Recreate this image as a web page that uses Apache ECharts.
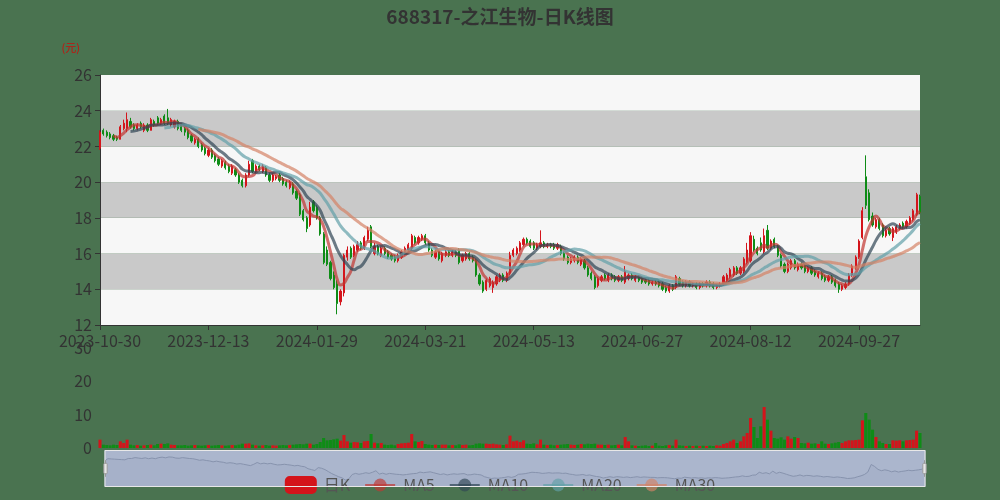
<!DOCTYPE html>
<html><head><meta charset="utf-8">
<script src="https://cdn.jsdelivr.net/npm/echarts@6/dist/echarts.min.js"></script>
<style>html,body{margin:0;padding:0;background:#4a7350;}#c{width:1000px;height:500px;}</style>
</head><body><div id="c"></div>
<script>
const dates = [
'2023-10-30','2023-10-31',
'2023-11-01','2023-11-02','2023-11-03','2023-11-06','2023-11-07','2023-11-08','2023-11-09','2023-11-10','2023-11-13','2023-11-14','2023-11-15','2023-11-16','2023-11-17','2023-11-20','2023-11-21','2023-11-22','2023-11-23','2023-11-24','2023-11-27','2023-11-28','2023-11-29','2023-11-30',
'2023-12-01','2023-12-04','2023-12-05','2023-12-06','2023-12-07','2023-12-08','2023-12-11','2023-12-12','2023-12-13','2023-12-14','2023-12-15','2023-12-18','2023-12-19','2023-12-20','2023-12-21','2023-12-22','2023-12-25','2023-12-26','2023-12-27','2023-12-28','2023-12-29',
'2024-01-02','2024-01-03','2024-01-04','2024-01-05','2024-01-08','2024-01-09','2024-01-10','2024-01-11','2024-01-12','2024-01-15','2024-01-16','2024-01-17','2024-01-18','2024-01-19','2024-01-22','2024-01-23','2024-01-24','2024-01-25','2024-01-26','2024-01-29','2024-01-30','2024-01-31',
'2024-02-01','2024-02-02','2024-02-05','2024-02-06','2024-02-07','2024-02-08','2024-02-19','2024-02-20','2024-02-21','2024-02-22','2024-02-23','2024-02-26','2024-02-27','2024-02-28','2024-02-29',
'2024-03-01','2024-03-04','2024-03-05','2024-03-06','2024-03-07','2024-03-08','2024-03-11','2024-03-12','2024-03-13','2024-03-14','2024-03-15','2024-03-18','2024-03-19','2024-03-20','2024-03-21','2024-03-22','2024-03-25','2024-03-26','2024-03-27','2024-03-28','2024-03-29',
'2024-04-01','2024-04-02','2024-04-03','2024-04-08','2024-04-09','2024-04-10','2024-04-11','2024-04-12','2024-04-15','2024-04-16','2024-04-17','2024-04-18','2024-04-19','2024-04-22','2024-04-23','2024-04-24','2024-04-25','2024-04-26','2024-04-29','2024-04-30',
'2024-05-06','2024-05-07','2024-05-08','2024-05-09','2024-05-10','2024-05-13','2024-05-14','2024-05-15','2024-05-16','2024-05-17','2024-05-20','2024-05-21','2024-05-22','2024-05-23','2024-05-24','2024-05-27','2024-05-28','2024-05-29','2024-05-30','2024-05-31',
'2024-06-03','2024-06-04','2024-06-05','2024-06-06','2024-06-07','2024-06-11','2024-06-12','2024-06-13','2024-06-14','2024-06-17','2024-06-18','2024-06-19','2024-06-20','2024-06-21','2024-06-24','2024-06-25','2024-06-26','2024-06-27','2024-06-28',
'2024-07-01','2024-07-02','2024-07-03','2024-07-04','2024-07-05','2024-07-08','2024-07-09','2024-07-10','2024-07-11','2024-07-12','2024-07-15','2024-07-16','2024-07-17','2024-07-18','2024-07-19','2024-07-22','2024-07-23','2024-07-24','2024-07-25','2024-07-26','2024-07-29','2024-07-30','2024-07-31',
'2024-08-01','2024-08-02','2024-08-05','2024-08-06','2024-08-07','2024-08-08','2024-08-09','2024-08-12','2024-08-13','2024-08-14','2024-08-15','2024-08-16','2024-08-19','2024-08-20','2024-08-21','2024-08-22','2024-08-23','2024-08-26','2024-08-27','2024-08-28','2024-08-29','2024-08-30',
'2024-09-02','2024-09-03','2024-09-04','2024-09-05','2024-09-06','2024-09-09','2024-09-10','2024-09-11','2024-09-12','2024-09-13','2024-09-18','2024-09-19','2024-09-20','2024-09-23','2024-09-24','2024-09-25','2024-09-26','2024-09-27','2024-09-30',
'2024-10-08','2024-10-09','2024-10-10','2024-10-11','2024-10-14','2024-10-15','2024-10-16','2024-10-17','2024-10-18','2024-10-21','2024-10-22','2024-10-23','2024-10-24','2024-10-25','2024-10-28','2024-10-29','2024-10-30'
];
const openP = [
21.9,22.9,22.8,22.7,22.6,22.5,22.4,23.0,23.0,23.4,
23.2,23.0,23.3,22.9,23.2,22.9,23.4,23.6,23.3,23.7,
23.6,23.2,23.1,23.4,23.2,23.0,22.9,22.6,22.2,22.4,
22.1,21.9,21.5,21.8,21.5,21.3,20.9,21.1,20.9,20.5,
20.7,20.4,20.1,19.8,20.4,21.2,20.6,20.9,20.6,20.8,
20.4,20.1,20.2,20.4,20.2,20.0,19.7,19.9,19.5,19.3,
18.4,18.0,17.6,18.9,18.6,18.0,17.1,16.2,15.5,14.8,
14.3,13.3,13.8,15.8,16.3,15.9,16.2,16.6,16.3,16.8,
17.5,16.0,16.4,15.9,16.3,16.1,15.9,15.8,15.6,15.8,
16.0,16.2,16.3,16.9,16.6,16.8,17.0,16.6,16.2,15.8,
16.1,15.6,15.9,16.1,15.9,16.1,16.2,15.6,15.7,16.0,
15.8,15.6,14.8,14.4,14.0,14.2,14.1,14.3,14.5,14.8,
14.5,14.9,15.9,16.0,16.2,16.5,16.8,16.7,16.6,16.3,
16.4,16.6,16.4,16.5,16.5,16.3,16.4,16.0,15.8,15.5,
15.6,15.8,15.4,15.6,15.2,14.9,14.7,14.2,14.5,14.8,
14.5,14.8,14.7,14.5,14.7,14.4,14.6,14.8,14.5,14.7,
14.6,14.5,14.5,14.3,14.4,14.4,14.3,14.1,13.9,14.2,
14.1,14.6,14.4,14.2,14.4,14.2,14.3,14.1,14.3,14.2,
14.4,14.3,14.1,14.2,14.3,14.5,14.7,14.8,15.2,14.9,
15.0,15.5,15.6,16.8,16.3,16.6,16.1,17.3,16.3,16.8,
16.4,15.9,15.4,15.0,15.2,15.6,15.1,15.4,15.3,15.0,
15.2,15.0,14.7,14.9,14.7,14.5,14.7,14.5,14.3,14.0,
14.1,14.3,14.8,15.2,15.8,16.9,20.3,19.4,18.1,17.5,
17.9,17.6,17.0,17.4,16.9,17.2,17.4,17.7,17.5,17.7,
17.9,18.2,19.2
];
const closeP = [
22.8,22.7,22.6,22.5,22.4,22.4,23.1,23.3,23.5,23.1,
23.0,23.2,23.1,23.2,22.9,23.5,23.2,23.3,23.5,23.3,
23.3,23.5,23.4,23.0,22.9,22.8,22.5,22.3,22.4,22.0,
21.8,21.6,21.8,21.4,21.2,21.0,21.2,20.8,20.6,20.9,
20.4,20.0,19.8,20.4,21.0,20.6,20.9,20.7,20.9,20.4,
20.1,20.4,20.3,20.1,19.9,19.8,20.0,19.4,19.1,18.2,
17.9,17.4,18.6,18.4,18.0,17.1,15.5,15.4,14.6,14.1,
13.2,13.9,15.9,16.2,15.8,16.4,16.5,16.3,16.9,17.3,
16.4,16.4,16.0,16.3,16.0,15.8,15.7,15.6,15.9,16.1,
16.3,16.5,17.0,16.6,16.9,17.0,16.6,16.2,15.9,16.1,
15.7,16.0,16.1,15.9,16.1,15.9,15.5,15.9,16.0,15.7,
15.6,14.8,14.3,13.9,14.5,14.6,14.4,14.7,14.8,14.5,
14.9,15.9,16.2,16.3,16.6,16.8,16.6,16.4,16.3,16.5,
16.6,16.4,16.5,16.4,16.3,16.5,16.0,15.7,15.5,15.7,
15.8,15.5,15.7,15.2,14.8,14.6,14.1,14.6,14.7,14.6,
14.8,14.6,14.5,14.7,14.5,15.0,14.8,14.6,14.7,14.5,
14.4,14.4,14.3,14.4,14.3,14.2,14.0,13.9,14.2,14.0,
14.7,14.3,14.2,14.4,14.2,14.3,14.1,14.3,14.2,14.4,
14.2,14.1,14.2,14.3,14.7,14.8,15.1,15.2,14.9,15.2,
15.7,16.2,17.0,16.2,16.0,16.2,17.0,16.3,16.7,16.4,
15.9,15.3,15.0,15.4,15.6,15.2,15.4,15.2,15.0,15.2,
14.9,14.8,14.9,14.6,14.5,14.7,14.4,14.2,14.0,14.2,
14.3,14.8,15.3,15.8,16.7,18.4,18.7,17.9,17.6,17.9,
17.4,17.0,17.3,17.1,17.4,17.5,17.6,17.5,17.8,18.0,
18.4,19.3,18.3
];
const lowP = [
21.8,22.6,22.5,22.4,22.3,22.3,22.4,22.9,22.8,23.0,
22.9,22.9,23.0,22.8,22.8,22.9,23.1,23.2,23.2,23.2,
23.2,23.1,23.0,22.9,22.8,22.6,22.4,22.2,22.1,21.9,
21.7,21.5,21.4,21.3,21.1,20.9,20.8,20.7,20.5,20.4,
20.3,19.9,19.7,19.7,20.3,20.5,20.5,20.6,20.5,20.3,
20.0,20.0,20.1,20.0,19.8,19.7,19.6,19.3,19.0,18.1,
17.8,17.2,17.5,18.3,17.9,17.0,15.4,15.3,14.5,14.0,
12.6,13.1,13.6,15.6,15.7,15.8,16.1,16.2,16.2,16.7,
16.3,15.9,15.9,15.8,15.9,15.7,15.6,15.5,15.5,15.7,
15.9,16.1,16.2,16.5,16.5,16.7,16.5,16.1,15.8,15.7,
15.6,15.5,15.8,15.8,15.8,15.8,15.4,15.5,15.6,15.6,
15.5,14.7,14.2,13.8,13.9,14.1,13.8,14.2,14.4,14.4,
14.4,14.8,15.8,15.9,16.1,16.4,16.5,16.3,16.2,16.2,
16.3,16.3,16.3,16.3,16.2,16.2,15.9,15.6,15.4,15.4,
15.5,15.4,15.3,15.1,14.7,14.5,14.0,14.1,14.4,14.5,
14.4,14.5,14.4,14.4,14.4,14.3,14.5,14.5,14.4,14.4,
14.3,14.3,14.2,14.2,14.2,14.1,13.9,13.8,13.8,13.9,
14.0,14.2,14.1,14.1,14.1,14.1,14.0,14.0,14.1,14.1,
14.1,14.0,14.0,14.1,14.2,14.4,14.6,14.7,14.8,14.8,
14.9,15.4,15.5,16.1,15.9,16.1,16.0,16.2,16.2,16.3,
15.8,15.2,14.9,14.9,15.1,15.1,15.0,15.1,14.9,14.9,
14.8,14.7,14.6,14.5,14.4,14.4,14.3,14.1,13.8,13.9,
14.0,14.2,14.7,15.1,15.7,16.8,18.5,17.8,17.5,17.4,
17.3,16.9,16.9,17.0,16.7,17.1,17.3,17.4,17.4,17.6,
17.8,18.1,18.2
];
const highP = [
22.9,23.0,22.9,22.8,22.7,22.6,23.2,23.5,23.9,23.6,
23.3,23.3,23.4,23.3,23.3,23.6,23.5,23.7,23.6,23.8,
24.1,23.6,23.5,23.5,23.3,23.1,23.0,22.7,22.5,22.5,
22.2,22.0,21.9,21.9,21.6,21.4,21.3,21.2,21.0,21.0,
20.8,20.5,20.2,20.5,21.2,21.3,21.0,21.0,21.0,20.9,
20.5,20.5,20.4,20.5,20.3,20.1,20.1,20.0,19.6,19.4,
18.5,18.1,18.9,19.0,18.7,18.1,17.2,16.4,15.6,15.0,
14.5,14.0,16.0,16.4,16.4,16.5,16.7,16.7,17.0,17.5,
17.6,16.6,16.5,16.4,16.4,16.2,16.0,15.9,16.0,16.2,
16.4,16.6,17.1,17.0,17.0,17.1,17.1,16.7,16.3,16.2,
16.2,16.1,16.2,16.2,16.2,16.2,16.3,16.0,16.1,16.1,
15.9,15.7,14.9,14.5,14.6,14.7,14.5,14.8,14.9,14.9,
15.0,16.1,16.3,16.4,16.7,16.9,16.9,16.8,16.7,16.6,
17.3,16.7,16.6,16.6,16.6,16.6,16.5,16.1,15.9,15.8,
15.9,15.9,15.8,15.7,15.3,15.0,14.8,14.7,14.8,14.9,
14.9,14.9,14.8,14.8,14.8,15.3,14.9,14.9,14.8,14.8,
14.7,14.6,14.6,14.5,14.5,14.5,14.4,14.2,14.3,14.3,
14.8,14.7,14.5,14.5,14.5,14.4,14.4,14.4,14.4,14.5,
14.5,14.4,14.3,14.4,14.8,14.9,15.2,15.3,15.3,15.3,
15.8,16.6,17.2,17.0,16.4,16.9,17.4,17.6,16.8,16.9,
16.5,16.0,15.5,15.5,15.7,15.7,15.5,15.5,15.4,15.3,
15.3,15.1,15.0,15.0,14.8,14.8,14.8,14.6,14.4,14.3,
14.4,14.9,15.4,15.9,16.8,18.6,21.5,19.6,18.3,18.0,
18.0,17.7,17.4,17.5,17.5,17.6,17.7,17.8,17.9,18.1,
18.5,19.4,19.3
];
const volumes = [
2.5,1.0,0.9,0.8,1.0,0.9,2.0,1.5,2.5,1.0,
0.8,0.9,0.7,0.8,0.9,1.0,0.8,1.2,1.3,1.2,
1.4,1.0,0.9,0.8,0.8,0.9,0.7,0.8,0.9,0.8,
0.7,0.8,0.9,0.7,0.8,0.9,0.8,0.7,0.8,0.9,
0.8,1.0,1.3,1.3,1.4,1.0,0.8,0.7,0.8,0.9,
0.7,0.8,0.7,0.8,0.9,0.8,0.9,1.0,1.1,1.2,
1.1,1.3,1.3,1.0,1.2,1.8,3.0,2.3,2.4,2.6,
2.8,2.2,3.9,2.0,1.6,1.8,1.7,1.5,2.0,2.1,
4.2,1.6,1.4,1.5,1.0,0.9,1.0,0.8,1.2,1.4,
1.5,1.6,4.2,2.0,1.8,2.1,1.2,1.0,0.9,1.0,
0.9,1.0,1.0,0.8,0.9,0.8,1.1,0.9,1.0,0.8,
0.9,1.3,1.4,1.3,1.3,1.2,1.3,1.1,1.0,0.9,
1.1,3.7,2.0,2.2,1.8,2.3,1.3,1.2,1.4,1.1,
2.5,1.0,0.9,1.0,0.8,0.9,1.0,1.1,1.2,1.0,
0.9,1.0,1.2,1.1,1.3,1.2,1.3,1.0,1.0,0.9,
1.0,0.8,0.9,1.0,0.8,3.3,2.0,0.8,0.7,0.6,
0.7,0.8,0.6,0.7,1.5,0.7,0.6,0.8,0.9,0.7,
2.5,0.8,0.7,0.6,0.7,0.6,0.7,0.6,0.7,0.6,
0.7,0.6,0.8,0.7,1.2,1.5,2.0,2.5,1.5,2.0,
3.5,4.5,9.0,6.3,3.0,6.5,12.3,8.5,5.2,3.0,
2.8,3.2,2.5,3.5,2.8,3.3,3.0,1.5,1.4,1.6,
1.3,1.4,1.2,2.0,1.3,1.2,1.4,1.6,1.8,1.5,
2.0,2.3,2.3,2.4,2.5,8.3,10.5,8.5,5.5,3.3,
2.0,1.5,1.2,1.2,2.3,2.2,2.3,2.0,2.3,2.4,
2.5,5.2,4.5
];
const priceTicks = {min: 12, max: 26, interval: 2};
const volTicks = {min: 0, max: 30, interval: 10};
const maPeriods = [5, 10, 20, 30];
const maColors = ['#c23531', '#2f4554', '#61a0a8', '#d48265'];
const UP = '#d4141b', DOWN = '#0e8c16';

const kData = dates.map((d, i) => [openP[i], closeP[i], lowP[i], highP[i]]);
function ma(n) {
  return closeP.map((c, i) => {
    if (i < n - 1) return '-';
    let s = 0;
    for (let j = i - n + 1; j <= i; j++) s += closeP[j];
    return +(s / n).toFixed(3);
  });
}
const volData = volumes.map((v, i) => ({
  value: v,
  itemStyle: {color: closeP[i] >= openP[i] ? UP : DOWN}
}));

const FONT = "'Noto Sans CJK SC','Noto Sans',sans-serif";
const chart = echarts.init(document.getElementById('c'), null, {renderer: 'canvas'});
const option = {
  animation: false,
  backgroundColor: '#4a7350',
  textStyle: {fontFamily: FONT},
  title: {
    text: '688317-之江生物-日K线图', left: 'center', top: 2,
    textStyle: {fontSize: 19, fontWeight: 'bold', color: '#333', fontFamily: FONT}
  },
  legend: {
    data: ['日K', 'MA5', 'MA10', 'MA20', 'MA30'],
    top: 471, left: 'center', itemWidth: 30, itemHeight: 16, itemGap: 14,
    textStyle: {fontSize: 16, color: '#555', fontFamily: FONT, padding: [0, 0, 0, 3]}
  },
  grid: [
    {left: 100, width: 820, top: 75, height: 250},
    {left: 100, width: 820, top: 348, height: 100}
  ],
  xAxis: [
    {
      type: 'category', data: dates, gridIndex: 0, boundaryGap: false,
      axisLine: {show: true, lineStyle: {color: '#333'}},
      axisTick: {show: true, interval: 31, lineStyle: {color: '#333'}},
      axisLabel: {interval: 31, fontSize: 16, color: '#333', margin: 8},
      splitLine: {show: false}
    },
    {
      type: 'category', data: dates, gridIndex: 1, boundaryGap: false,
      axisLine: {show: false}, axisTick: {show: false}, axisLabel: {show: false},
      splitLine: {show: false}
    }
  ],
  yAxis: [
    {
      type: 'value', gridIndex: 0, min: priceTicks.min, max: priceTicks.max, interval: priceTicks.interval,
      name: '(元)', nameLocation: 'end', nameGap: 22,
      nameTextStyle: {color: '#c8100c', fontSize: 11, align: 'right', padding: [0, 20, 0, 0]},
      axisLine: {show: true, lineStyle: {color: '#333'}},
      axisTick: {show: true, lineStyle: {color: '#333'}},
      axisLabel: {fontSize: 16, color: '#333', margin: 8},
      splitLine: {show: false},
      splitArea: {show: true, areaStyle: {color: ['#f7f7f7', '#c9c9c9']}}
    },
    {
      type: 'value', gridIndex: 1, min: volTicks.min, max: volTicks.max, interval: volTicks.interval,
      axisLine: {show: false}, axisTick: {show: false},
      axisLabel: {fontSize: 16, color: '#333', margin: 8},
      splitLine: {show: false}
    }
  ],
  dataZoom: [
    {
      type: 'slider', xAxisIndex: [0, 1], start: 0, end: 100,
      left: 102, width: 821, top: 450, height: 37,
      backgroundColor: '#abb6cd', fillerColor: 'rgba(0,0,0,0)', borderColor: '#e8e8e8',
      showDetail: false, brushSelect: false, moveHandleSize: 0,
      handleSize: '45%',
      handleStyle: {color: '#e6e6e6', borderColor: '#999'},
      dataBackground: {lineStyle: {color: '#8793ad', width: 1}, areaStyle: {color: 'rgba(110,125,155,0.25)'}},
      selectedDataBackground: {lineStyle: {color: '#8793ad', width: 1}, areaStyle: {color: 'rgba(110,125,155,0.25)'}}
    }
  ],
  series: [
    {
      name: '日K', type: 'candlestick', xAxisIndex: 0, yAxisIndex: 0, data: kData,
      itemStyle: {color: UP, color0: DOWN, borderColor: UP, borderColor0: DOWN}
    },
    ...maPeriods.map((p, k) => ({
      name: 'MA' + p, type: 'line', xAxisIndex: 0, yAxisIndex: 0, data: ma(p),
      smooth: true, showSymbol: false, symbol: 'circle', symbolSize: 14,
      itemStyle: {color: maColors[k], opacity: 0.65},
      lineStyle: {color: maColors[k], width: 3, opacity: 0.7}
    })),
    {
      name: 'Volume', type: 'bar', xAxisIndex: 1, yAxisIndex: 1, data: volData,
      barCategoryGap: '10%'
    }
  ]
};
chart.setOption(option);
</script>
</body></html>
